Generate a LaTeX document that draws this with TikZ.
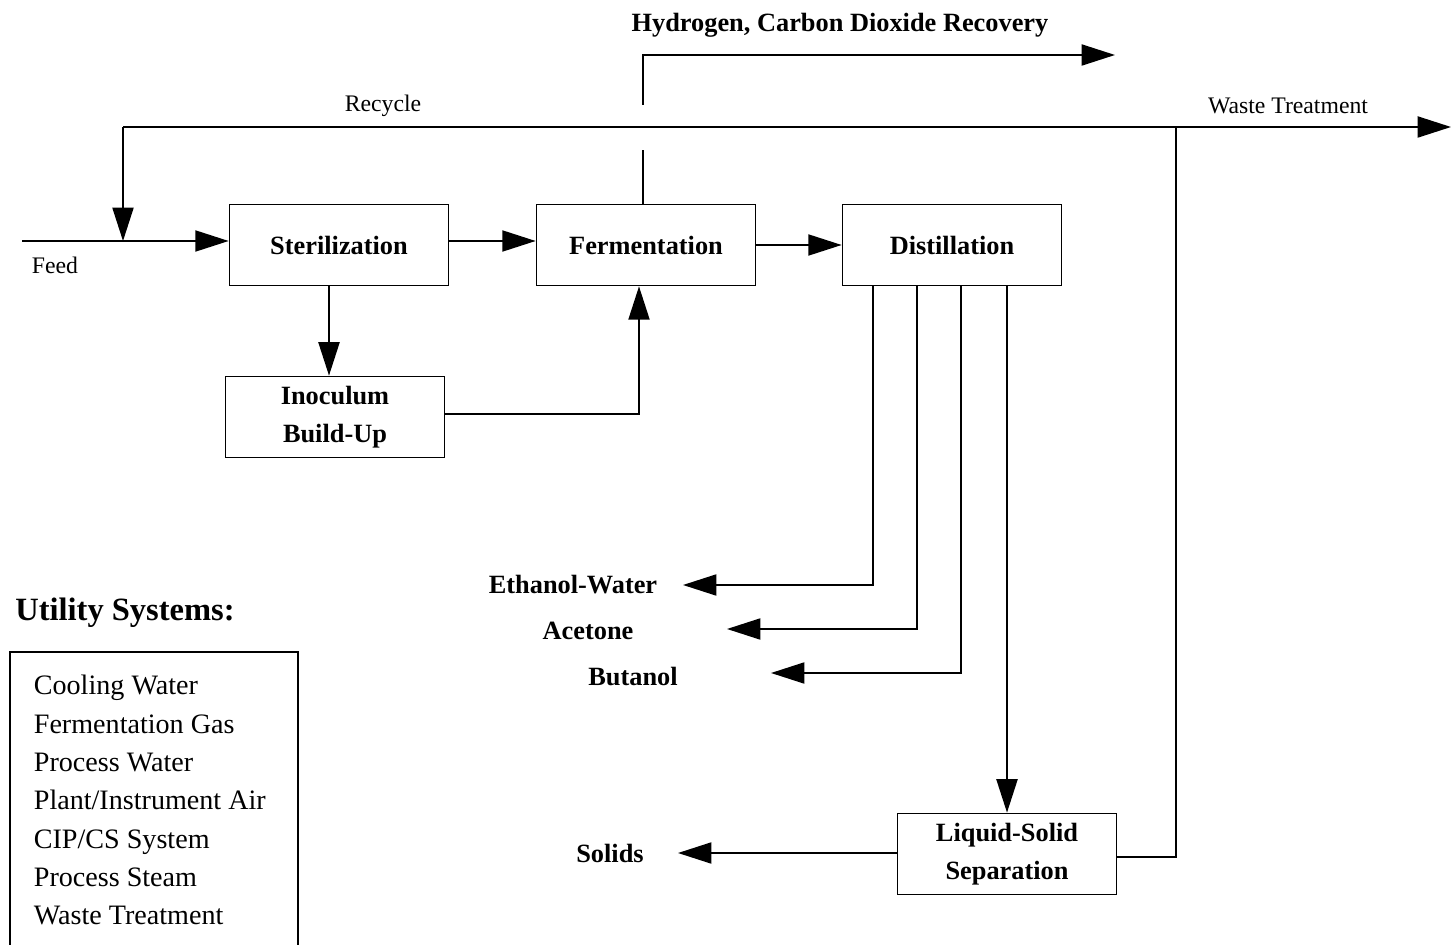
\documentclass[tikz,border=0pt]{standalone}
\usepackage{fontspec}
\setmainfont{Liberation Serif}
\usetikzlibrary{arrows.meta,positioning}

\begin{document}
\begin{tikzpicture}[x=0.02cm,y=-0.02cm,line width=1pt,
    procbox/.style={draw,line width=1pt,minimum width=4.38cm,minimum height=1.62cm,
      align=center,font=\fontsize{15}{21.5}\selectfont\bfseries},
    flow/.style={-{Triangle[length=19pt,width=12pt]},line width=1pt},
    streamlbl/.style={font=\fontsize{13.5}{16}\selectfont},
    prodlbl/.style={font=\fontsize{15}{18}\selectfont\bfseries},
    utilitem/.style={anchor=base west,inner sep=0pt,font=\fontsize{16}{19}\selectfont}]

  \useasboundingbox (0,0) rectangle (1451,945);

  % process units
  \node[procbox] (steril) at (339,245) {Sterilization};
  \node[procbox] (ferm)   at (646,245) {Fermentation};
  \node[procbox] (dist)   at (952,245) {Distillation};
  \node[procbox] (inoc)   at (335,417) {Inoculum\\Build-Up};
  \node[procbox] (lss)    at (1007,854) {Liquid-Solid\\Separation};

  % feed and recycle / waste line
  \coordinate (feedin) at (22,241);
  \coordinate (rec) at (123,127);
  \coordinate (wastejoin) at (1176,127);
  \coordinate (wasteout) at (1451,127);
  \node[streamlbl] (feedlbl) at (55,265) {Feed};
  \node[streamlbl] (reclbl) at (383,106) {Recycle};
  \node[streamlbl] (wastelbl) at (1288,106) {Waste Treatment};

  \draw[flow] (feedin) -- (feedin -| steril.west);
  \draw[flow] (rec) -- (wasteout);
  \draw[flow] (rec) -- (rec |- feedin);
  \draw (lss.east |- 0,857) -| (wastejoin);

  \draw[flow] (steril.east |- feedin) -- (ferm.west |- feedin);
  \draw[flow] (ferm.east) -- (dist.west);
  \draw[flow] (steril.south -| 329,0) -- (inoc.north -| 329,0);
  \draw[flow] (inoc.east |- 0,414) -| (ferm.south -| 639,0);

  % off-gas, jumps over the recycle line
  \node[prodlbl] (h2lbl) at (840,25) {Hydrogen, Carbon Dioxide Recovery};
  \coordinate (h2end) at (1115,55);
  \draw (ferm.north -| 643,0) -- (643,150);
  \draw[flow] (643,105) |- (h2end);

  % distillation products
  \node[prodlbl] (ethlbl) at (573,585) {Ethanol-Water};
  \node[prodlbl] (acelbl) at (588,631) {Acetone};
  \node[prodlbl] (butlbl) at (633,677) {Butanol};
  \foreach \sx/\sy/\tx/\nm in {873/585/683/eth,917/629/727/ace,961/673/771/but} {
    \coordinate (\nm tip) at (\tx,\sy);
    \draw[flow] (dist.south -| \sx,0) |- (\nm tip);
  }
  \draw[flow] (dist.south -| lss.north) -- (lss.north);

  \node[prodlbl] (sollbl) at (610,853) {Solids};
  \coordinate (soltip) at (678,853);
  \draw[flow] (lss.west |- soltip) -- (soltip);

  % utility systems
  \node[font=\fontsize{18.5}{22}\selectfont\bfseries] (utilhead) at (125,613) {Utility Systems:};
  \draw (10,945) -- (10,652) -- (298,652) -- (298,945);
  \foreach \item [count=\i from 0] in {Cooling Water,Fermentation Gas,Process Water,
      Plant/Instrument Air,CIP/CS System,Process Steam,Waste Treatment} {
    \node[utilitem] (util\i) at (33,{695+38.3*\i}) {\item};
  }
\end{tikzpicture}
\end{document}
